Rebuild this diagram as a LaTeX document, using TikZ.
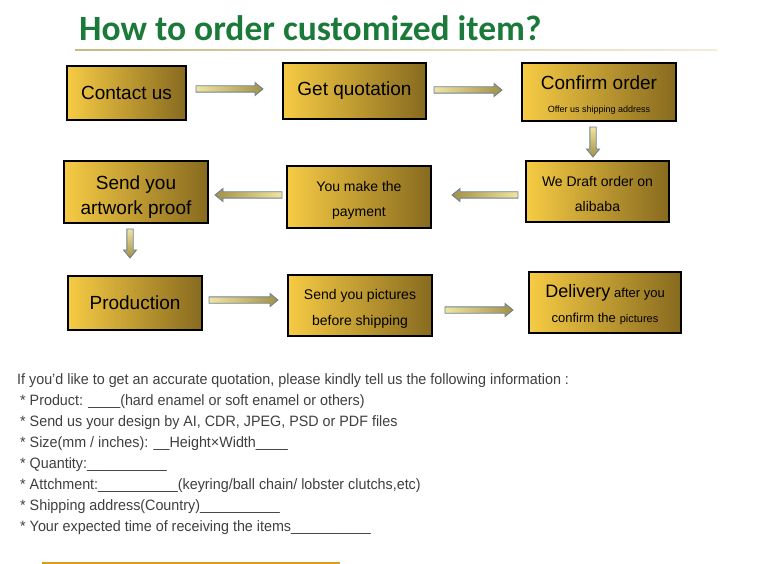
\documentclass[tikz,border=0pt]{standalone}
\usepackage{fontspec}
\setmainfont{Liberation Sans}
\newfontfamily\titlefont{Carlito}
\newfontfamily\bodyfont[FakeStretch=0.955]{Liberation Sans}
\usetikzlibrary{calc}
\definecolor{titlegreen}{HTML}{1B7A3A}
\definecolor{goldL}{HTML}{F6CB44}
\definecolor{goldM}{HTML}{E6B635}
\definecolor{goldR}{HTML}{876A1F}
\definecolor{arrL}{HTML}{F1E4A2}
\definecolor{arrR}{HTML}{A39045}
\definecolor{arrB}{HTML}{6A8494}
\definecolor{bodygrey}{HTML}{3F3F3F}
\definecolor{ruleL}{HTML}{C9B984}
\definecolor{ruleR}{HTML}{F2EDD8}
\definecolor{orangebar}{HTML}{DE9C1C}
\newcommand\upstrut[1]{\rule{0pt}{#1}}
% block arrows between two named coordinates (tail, head)
\newcommand\arrowRight[2]{\shadedraw[blockarrow, left color=arrL, right color=arrR]
  let \p1=(#1), \p2=(#2) in
  (\x1,{\y1+3.2pt}) -- ({\x2-8pt},{\y1+3.2pt}) -- ({\x2-8pt},{\y1+6.5pt}) -- (\x2,\y1)
  -- ({\x2-8pt},{\y1-6.5pt}) -- ({\x2-8pt},{\y1-3.2pt}) -- (\x1,{\y1-3.2pt}) -- cycle;}
\newcommand\arrowLeft[2]{\shadedraw[blockarrow, left color=arrR, right color=arrL]
  let \p1=(#1), \p2=(#2) in
  (\x1,{\y1+3.2pt}) -- ({\x2+8pt},{\y1+3.2pt}) -- ({\x2+8pt},{\y1+6.5pt}) -- (\x2,\y1)
  -- ({\x2+8pt},{\y1-6.5pt}) -- ({\x2+8pt},{\y1-3.2pt}) -- (\x1,{\y1-3.2pt}) -- cycle;}
\newcommand\arrowDown[2]{\shadedraw[blockarrow, top color=arrL, bottom color=arrR]
  let \p1=(#1), \p2=(#2) in
  ({\x1+3.2pt},\y1) -- ({\x1+3.2pt},{\y2+8pt}) -- ({\x1+6.5pt},{\y2+8pt}) -- (\x1,\y2)
  -- ({\x1-6.5pt},{\y2+8pt}) -- ({\x1-3.2pt},{\y2+8pt}) -- ({\x1-3.2pt},\y1) -- cycle;}
\begin{document}
\begin{tikzpicture}[x=1pt,y=-1pt,
  box/.style={draw=black, line width=2.4pt, left color=goldL, middle color=goldM, right color=goldR,
    inner sep=0pt, align=center, text=black, font=\fontsize{19}{20}\selectfont},
  smallbox/.style={box, font=\fontsize{14}{25}\selectfont},
  blockarrow/.style={draw=arrB, line width=0.9pt, line join=miter},
  bodyline/.style={anchor=west, inner sep=0pt, text=bodygrey, font=\bodyfont\fontsize{15}{17}\selectfont}
]
\useasboundingbox (0,0) rectangle (766,564);

% title
\node[anchor=base west, inner sep=0pt, text=titlegreen, font=\titlefont\bfseries\fontsize{35.5}{40}\selectfont] (title) at (79,41) {How to order customized item?};
\shade[left color=ruleL, right color=ruleR] (75,49.4) rectangle (717,50.6);

% boxes
\node[box, minimum width=119pt, minimum height=54pt] (b1) at (126.5,93) {Contact us};
\node[box, minimum width=143pt, minimum height=56pt] (b2) at (354.5,91) {Get quotation};
\node[box, minimum width=154pt, minimum height=58pt] (b3) at (599,92) {\upstrut{20pt}Confirm order\\[3pt]{\fontsize{9}{10}\selectfont Offer us shipping address}};
\node[smallbox, minimum width=143pt, minimum height=61pt] (b4) at (597.5,191.5) {\upstrut{15pt}We Draft order on\\alibaba};
\node[smallbox, minimum width=144pt, minimum height=62pt] (b5) at (359,197) {\upstrut{16pt}You make the\\payment};
\node[box, font=\fontsize{19}{25}\selectfont, minimum width=144pt, minimum height=62pt] (b6) at (136,192) {\upstrut{23pt}Send you\\artwork proof};
\node[box, minimum width=134pt, minimum height=54pt] (b7) at (135,303) {Production};
\node[smallbox, font=\fontsize{14}{26}\selectfont, minimum width=144pt, minimum height=61pt] (b8) at (360,305.5) {\upstrut{16pt}Send you pictures\\before shipping};
\node[smallbox, minimum width=152pt, minimum height=61pt] (b9) at (605,302.5) {\upstrut{18pt}{\fontsize{18}{20}\selectfont Delivery} {\fontsize{13}{15}\selectfont after you}\\{\fontsize{13}{15}\selectfont confirm the} {\fontsize{11}{13}\selectfont pictures}};

% arrow end points
\coordinate (a1s) at (196,89);   \coordinate (a1e) at (263,89);
\coordinate (a2s) at (434,90);   \coordinate (a2e) at (502,90);
\coordinate (a3s) at (593,127);  \coordinate (a3e) at (593,157);
\coordinate (a4s) at (518,195);  \coordinate (a4e) at (452,195);
\coordinate (a5s) at (282,195);  \coordinate (a5e) at (215,195);
\coordinate (a6s) at (130,229);  \coordinate (a6e) at (130,258);
\coordinate (a7s) at (209,300);  \coordinate (a7e) at (278,300);
\coordinate (a8s) at (445,310);  \coordinate (a8e) at (513,310);
\arrowRight{a1s}{a1e}
\arrowRight{a2s}{a2e}
\arrowDown{a3s}{a3e}
\arrowLeft{a4s}{a4e}
\arrowLeft{a5s}{a5e}
\arrowDown{a6s}{a6e}
\arrowRight{a7s}{a7e}
\arrowRight{a8s}{a8e}

% information text
\node[bodyline] (t0) at (17,381) {If you’d like to get an accurate quotation, please kindly tell us the following information :};
\node[bodyline] (t1) at (20,402) {* Product: \_\_\_\_(hard enamel or soft enamel or others)};
\node[bodyline] (t2) at (20,423) {* Send us your design by AI, CDR, JPEG, PSD or PDF files};
\node[bodyline] (t3) at (20,444) {* Size(mm / inches): \_\_Height×Width\_\_\_\_};
\node[bodyline] (t4) at (20,465) {* Quantity:\_\_\_\_\_\_\_\_\_\_};
\node[bodyline] (t5) at (20,486) {* Attchment:\_\_\_\_\_\_\_\_\_\_(keyring/ball chain/ lobster clutchs,etc)};
\node[bodyline] (t6) at (20,507) {* Shipping address(Country)\_\_\_\_\_\_\_\_\_\_};
\node[bodyline] (t7) at (20,528) {* Your expected time of receiving the items\_\_\_\_\_\_\_\_\_\_};

% bottom bar
\fill[orangebar] (42,561.5) rectangle (340,564);
\end{tikzpicture}
\end{document}
